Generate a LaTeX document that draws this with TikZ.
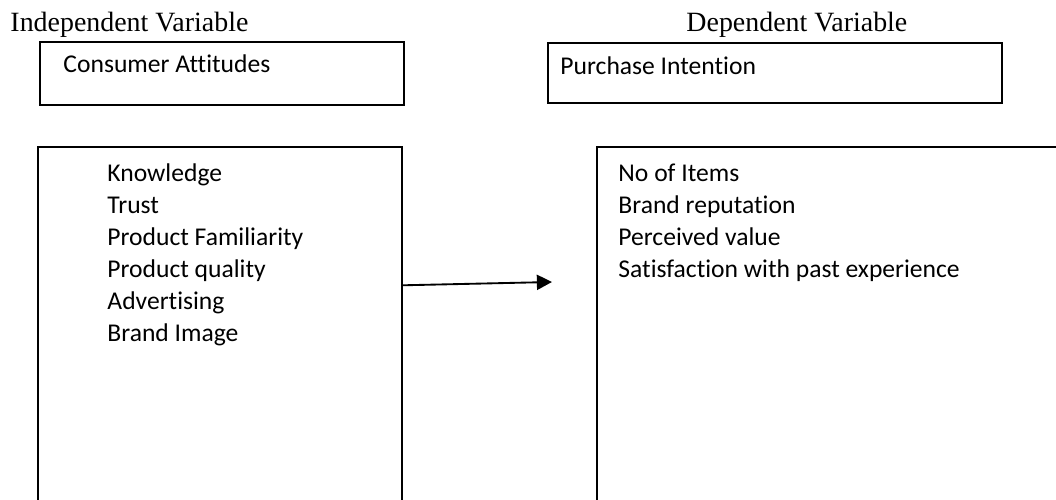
\documentclass[tikz,border=0pt]{standalone}
\usepackage{fontspec}
\setmainfont{Liberation Serif}
\newfontfamily\bodyfont[Ligatures=NoCommon]{Carlito}
\usetikzlibrary{
  fit,
  calc,
  arrows.meta
}

\begin{document}
\begin{tikzpicture}[x=0.43pt,y=-0.43pt]
  \tikzset{
    varbox/.style = {draw, line width=0.6pt, inner sep=0pt},
    heading/.style = {anchor=base west, inner sep=0pt, font=\fontsize{12}{14}\selectfont},
    boxtext/.style = {anchor=base west, inner sep=0pt, font=\bodyfont\fontsize{11}{13.4}\selectfont},
    linkarrow/.style = {line width=0.8pt, -{Triangle[length=6.5pt,width=6.5pt]}},
  }
  \useasboundingbox (0,0) rectangle (1056,500);
  \clip (0,0) rectangle (1056,500);

  % column titles
  \node[heading] (indep) at (10,32) {Independent Variable};
  \node[heading] (dep) at (686,32) {Dependent Variable};

  % upper boxes
  \node[varbox, fit={(40,42) (404,105)}] (cabox) {};
  \node[varbox, fit={(548,43) (1002,103)}] (pibox) {};
  \node[boxtext] (catitle) at (63,73) {Consumer Attitudes};
  \node[boxtext] (pititle) at (560,75) {Purchase Intention};

  % lower boxes, cut off at the bottom
  \node[varbox, fit={(38,147) (402,530)}] (attbox) {};
  \node[varbox, fit={(597,147) (1090,530)}] (intbox) {};

  \foreach \item [count=\i] in {Knowledge, Trust, Product Familiarity,
    Product quality, Advertising, Brand Image}
  \node[boxtext] (att-\i) at (107,150+32*\i) {\item};

  \foreach \item [count=\i] in {No of Items, Brand reputation,
    Perceived value, Satisfaction with past experience}
  \node[boxtext] (int-\i) at (618,150+32*\i) {\item};

  \coordinate (tip) at (552,282);
  \draw[linkarrow] ($(attbox.north east)+(0,139)$) -- (tip);
\end{tikzpicture}
\end{document}
